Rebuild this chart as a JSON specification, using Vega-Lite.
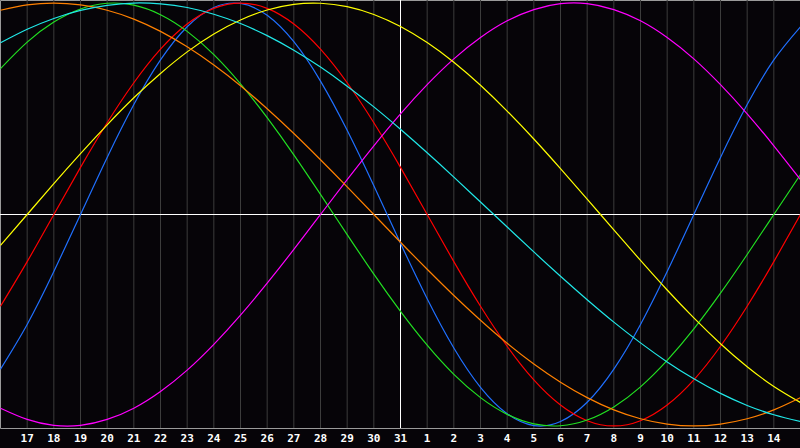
{
 "$schema": "https://vega.github.io/schema/vega-lite/v6.json",
 "width": 800,
 "height": 428,
 "autosize": {"type": "none"},
 "padding": {"left": 0, "top": 0, "right": 0, "bottom": 20},
 "background": "#060408",
 "config": {"view": {"stroke": "#9a9a9a", "strokeWidth": 1}},
 "datasets": {
  "days": [
   {"i":1,"label":"17"},{"i":2,"label":"18"},{"i":3,"label":"19"},{"i":4,"label":"20"},{"i":5,"label":"21"},
   {"i":6,"label":"22"},{"i":7,"label":"23"},{"i":8,"label":"24"},{"i":9,"label":"25"},{"i":10,"label":"26"},
   {"i":11,"label":"27"},{"i":12,"label":"28"},{"i":13,"label":"29"},{"i":14,"label":"30"},{"i":15,"label":"31"},
   {"i":16,"label":"1"},{"i":17,"label":"2"},{"i":18,"label":"3"},{"i":19,"label":"4"},{"i":20,"label":"5"},
   {"i":21,"label":"6"},{"i":22,"label":"7"},{"i":23,"label":"8"},{"i":24,"label":"9"},{"i":25,"label":"10"},
   {"i":26,"label":"11"},{"i":27,"label":"12"},{"i":28,"label":"13"},{"i":29,"label":"14"}
  ],
  "markers": [{"today": 15, "zero": 0}],
  "curves": [
   {"s":"Physical","i":0,"v":-0.731},{"s":"Physical","i":1,"v":-0.520},{"s":"Physical","i":2,"v":-0.270},{"s":"Physical","i":3,"v":0},{"s":"Physical","i":4,"v":0.270},{"s":"Physical","i":5,"v":0.520},{"s":"Physical","i":6,"v":0.731},{"s":"Physical","i":7,"v":0.888},{"s":"Physical","i":8,"v":0.979},{"s":"Physical","i":9,"v":0.998},{"s":"Physical","i":10,"v":0.942},{"s":"Physical","i":11,"v":0.817},{"s":"Physical","i":12,"v":0.631},{"s":"Physical","i":13,"v":0.398},{"s":"Physical","i":14,"v":0.136},{"s":"Physical","i":15,"v":-0.136},{"s":"Physical","i":16,"v":-0.398},{"s":"Physical","i":17,"v":-0.631},{"s":"Physical","i":18,"v":-0.817},{"s":"Physical","i":19,"v":-0.942},{"s":"Physical","i":20,"v":-0.998},{"s":"Physical","i":21,"v":-0.979},{"s":"Physical","i":22,"v":-0.888},{"s":"Physical","i":23,"v":-0.731},{"s":"Physical","i":24,"v":-0.520},{"s":"Physical","i":25,"v":-0.270},{"s":"Physical","i":26,"v":0},{"s":"Physical","i":27,"v":0.270},{"s":"Physical","i":28,"v":0.520},{"s":"Physical","i":29,"v":0.731},{"s":"Physical","i":30,"v":0.888},
   {"s":"Emotional","i":0,"v":-0.434},{"s":"Emotional","i":1,"v":-0.223},{"s":"Emotional","i":2,"v":0},{"s":"Emotional","i":3,"v":0.223},{"s":"Emotional","i":4,"v":0.434},{"s":"Emotional","i":5,"v":0.623},{"s":"Emotional","i":6,"v":0.782},{"s":"Emotional","i":7,"v":0.901},{"s":"Emotional","i":8,"v":0.975},{"s":"Emotional","i":9,"v":1},{"s":"Emotional","i":10,"v":0.975},{"s":"Emotional","i":11,"v":0.901},{"s":"Emotional","i":12,"v":0.782},{"s":"Emotional","i":13,"v":0.623},{"s":"Emotional","i":14,"v":0.434},{"s":"Emotional","i":15,"v":0.223},{"s":"Emotional","i":16,"v":0},{"s":"Emotional","i":17,"v":-0.223},{"s":"Emotional","i":18,"v":-0.434},{"s":"Emotional","i":19,"v":-0.623},{"s":"Emotional","i":20,"v":-0.782},{"s":"Emotional","i":21,"v":-0.901},{"s":"Emotional","i":22,"v":-0.975},{"s":"Emotional","i":23,"v":-1},{"s":"Emotional","i":24,"v":-0.975},{"s":"Emotional","i":25,"v":-0.901},{"s":"Emotional","i":26,"v":-0.782},{"s":"Emotional","i":27,"v":-0.623},{"s":"Emotional","i":28,"v":-0.434},{"s":"Emotional","i":29,"v":-0.223},{"s":"Emotional","i":30,"v":0},
   {"s":"Intellectual","i":0,"v":0.690},{"s":"Intellectual","i":1,"v":0.815},{"s":"Intellectual","i":2,"v":0.910},{"s":"Intellectual","i":3,"v":0.972},{"s":"Intellectual","i":4,"v":0.999},{"s":"Intellectual","i":5,"v":0.990},{"s":"Intellectual","i":6,"v":0.945},{"s":"Intellectual","i":7,"v":0.866},{"s":"Intellectual","i":8,"v":0.756},{"s":"Intellectual","i":9,"v":0.618},{"s":"Intellectual","i":10,"v":0.458},{"s":"Intellectual","i":11,"v":0.282},{"s":"Intellectual","i":12,"v":0.095},{"s":"Intellectual","i":13,"v":-0.095},{"s":"Intellectual","i":14,"v":-0.282},{"s":"Intellectual","i":15,"v":-0.458},{"s":"Intellectual","i":16,"v":-0.618},{"s":"Intellectual","i":17,"v":-0.756},{"s":"Intellectual","i":18,"v":-0.866},{"s":"Intellectual","i":19,"v":-0.945},{"s":"Intellectual","i":20,"v":-0.990},{"s":"Intellectual","i":21,"v":-0.999},{"s":"Intellectual","i":22,"v":-0.972},{"s":"Intellectual","i":23,"v":-0.910},{"s":"Intellectual","i":24,"v":-0.815},{"s":"Intellectual","i":25,"v":-0.690},{"s":"Intellectual","i":26,"v":-0.541},{"s":"Intellectual","i":27,"v":-0.372},{"s":"Intellectual","i":28,"v":-0.189},{"s":"Intellectual","i":29,"v":0},{"s":"Intellectual","i":30,"v":0.189},
   {"s":"Intuitive","i":0,"v":-0.916},{"s":"Intuitive","i":1,"v":-0.969},{"s":"Intuitive","i":2,"v":-0.997},{"s":"Intuitive","i":3,"v":-0.997},{"s":"Intuitive","i":4,"v":-0.969},{"s":"Intuitive","i":5,"v":-0.916},{"s":"Intuitive","i":6,"v":-0.837},{"s":"Intuitive","i":7,"v":-0.736},{"s":"Intuitive","i":8,"v":-0.614},{"s":"Intuitive","i":9,"v":-0.476},{"s":"Intuitive","i":10,"v":-0.325},{"s":"Intuitive","i":11,"v":-0.165},{"s":"Intuitive","i":12,"v":0},{"s":"Intuitive","i":13,"v":0.165},{"s":"Intuitive","i":14,"v":0.325},{"s":"Intuitive","i":15,"v":0.476},{"s":"Intuitive","i":16,"v":0.614},{"s":"Intuitive","i":17,"v":0.736},{"s":"Intuitive","i":18,"v":0.837},{"s":"Intuitive","i":19,"v":0.916},{"s":"Intuitive","i":20,"v":0.969},{"s":"Intuitive","i":21,"v":0.997},{"s":"Intuitive","i":22,"v":0.997},{"s":"Intuitive","i":23,"v":0.969},{"s":"Intuitive","i":24,"v":0.916},{"s":"Intuitive","i":25,"v":0.837},{"s":"Intuitive","i":26,"v":0.736},{"s":"Intuitive","i":27,"v":0.614},{"s":"Intuitive","i":28,"v":0.476},{"s":"Intuitive","i":29,"v":0.325},{"s":"Intuitive","i":30,"v":0.165},
   {"s":"Aesthetic","i":0,"v":-0.146},{"s":"Aesthetic","i":1,"v":0},{"s":"Aesthetic","i":2,"v":0.146},{"s":"Aesthetic","i":3,"v":0.288},{"s":"Aesthetic","i":4,"v":0.424},{"s":"Aesthetic","i":5,"v":0.552},{"s":"Aesthetic","i":6,"v":0.667},{"s":"Aesthetic","i":7,"v":0.769},{"s":"Aesthetic","i":8,"v":0.854},{"s":"Aesthetic","i":9,"v":0.920},{"s":"Aesthetic","i":10,"v":0.967},{"s":"Aesthetic","i":11,"v":0.994},{"s":"Aesthetic","i":12,"v":0.999},{"s":"Aesthetic","i":13,"v":0.983},{"s":"Aesthetic","i":14,"v":0.946},{"s":"Aesthetic","i":15,"v":0.889},{"s":"Aesthetic","i":16,"v":0.813},{"s":"Aesthetic","i":17,"v":0.720},{"s":"Aesthetic","i":18,"v":0.611},{"s":"Aesthetic","i":19,"v":0.489},{"s":"Aesthetic","i":20,"v":0.357},{"s":"Aesthetic","i":21,"v":0.217},{"s":"Aesthetic","i":22,"v":0.073},{"s":"Aesthetic","i":23,"v":-0.073},{"s":"Aesthetic","i":24,"v":-0.217},{"s":"Aesthetic","i":25,"v":-0.357},{"s":"Aesthetic","i":26,"v":-0.489},{"s":"Aesthetic","i":27,"v":-0.611},{"s":"Aesthetic","i":28,"v":-0.720},{"s":"Aesthetic","i":29,"v":-0.813},{"s":"Aesthetic","i":30,"v":-0.889},
   {"s":"Awareness","i":0,"v":0.966},{"s":"Awareness","i":1,"v":0.991},{"s":"Awareness","i":2,"v":1},{"s":"Awareness","i":3,"v":0.991},{"s":"Awareness","i":4,"v":0.966},{"s":"Awareness","i":5,"v":0.924},{"s":"Awareness","i":6,"v":0.866},{"s":"Awareness","i":7,"v":0.793},{"s":"Awareness","i":8,"v":0.707},{"s":"Awareness","i":9,"v":0.609},{"s":"Awareness","i":10,"v":0.5},{"s":"Awareness","i":11,"v":0.383},{"s":"Awareness","i":12,"v":0.259},{"s":"Awareness","i":13,"v":0.131},{"s":"Awareness","i":14,"v":0},{"s":"Awareness","i":15,"v":-0.131},{"s":"Awareness","i":16,"v":-0.259},{"s":"Awareness","i":17,"v":-0.383},{"s":"Awareness","i":18,"v":-0.5},{"s":"Awareness","i":19,"v":-0.609},{"s":"Awareness","i":20,"v":-0.707},{"s":"Awareness","i":21,"v":-0.793},{"s":"Awareness","i":22,"v":-0.866},{"s":"Awareness","i":23,"v":-0.924},{"s":"Awareness","i":24,"v":-0.966},{"s":"Awareness","i":25,"v":-0.991},{"s":"Awareness","i":26,"v":-1},{"s":"Awareness","i":27,"v":-0.991},{"s":"Awareness","i":28,"v":-0.966},{"s":"Awareness","i":29,"v":-0.924},{"s":"Awareness","i":30,"v":-0.866},
   {"s":"Spiritual","i":0,"v":0.812},{"s":"Spiritual","i":1,"v":0.876},{"s":"Spiritual","i":2,"v":0.927},{"s":"Spiritual","i":3,"v":0.965},{"s":"Spiritual","i":4,"v":0.989},{"s":"Spiritual","i":5,"v":1.000},{"s":"Spiritual","i":6,"v":0.996},{"s":"Spiritual","i":7,"v":0.979},{"s":"Spiritual","i":8,"v":0.947},{"s":"Spiritual","i":9,"v":0.903},{"s":"Spiritual","i":10,"v":0.846},{"s":"Spiritual","i":11,"v":0.777},{"s":"Spiritual","i":12,"v":0.697},{"s":"Spiritual","i":13,"v":0.607},{"s":"Spiritual","i":14,"v":0.509},{"s":"Spiritual","i":15,"v":0.403},{"s":"Spiritual","i":16,"v":0.292},{"s":"Spiritual","i":17,"v":0.177},{"s":"Spiritual","i":18,"v":0.059},{"s":"Spiritual","i":19,"v":-0.059},{"s":"Spiritual","i":20,"v":-0.177},{"s":"Spiritual","i":21,"v":-0.292},{"s":"Spiritual","i":22,"v":-0.403},{"s":"Spiritual","i":23,"v":-0.509},{"s":"Spiritual","i":24,"v":-0.607},{"s":"Spiritual","i":25,"v":-0.697},{"s":"Spiritual","i":26,"v":-0.777},{"s":"Spiritual","i":27,"v":-0.846},{"s":"Spiritual","i":28,"v":-0.903},{"s":"Spiritual","i":29,"v":-0.947},{"s":"Spiritual","i":30,"v":-0.979}
  ]
 },
 "layer": [
  {
   "data": {"name": "days"},
   "mark": {"type": "rule", "color": "#3c3c3c", "strokeWidth": 1},
   "encoding": {
    "x": {"field": "i", "type": "quantitative", "scale": {"domain": [-0.01875, 29.98125], "nice": false, "zero": false}, "axis": null}
   }
  },
  {
   "data": {"name": "days"},
   "mark": {"type": "text", "color": "#ffffff", "font": "DejaVu Sans Mono", "fontWeight": "bold", "fontSize": 11, "baseline": "middle", "align": "center", "dy": 11},
   "encoding": {
    "x": {"field": "i", "type": "quantitative", "scale": {"domain": [-0.01875, 29.98125], "nice": false, "zero": false}, "axis": null},
    "y": {"datum": -1.0096, "type": "quantitative", "scale": {"domain": [-1.0096, 1.0144], "nice": false, "zero": false}, "axis": null},
    "text": {"field": "label", "type": "nominal"}
   }
  },
  {
   "data": {"name": "markers"},
   "mark": {"type": "rule", "color": "#ffffff", "strokeWidth": 1},
   "encoding": {
    "y": {"field": "zero", "type": "quantitative", "scale": {"domain": [-1.0096, 1.0144], "nice": false, "zero": false}, "axis": null}
   }
  },
  {
   "data": {"name": "markers"},
   "mark": {"type": "rule", "color": "#ffffff", "strokeWidth": 1},
   "encoding": {
    "x": {"field": "today", "type": "quantitative", "scale": {"domain": [-0.01875, 29.98125], "nice": false, "zero": false}, "axis": null}
   }
  },
  {
   "data": {"name": "curves"},
   "mark": {"type": "line", "interpolate": "natural", "strokeWidth": 1.2, "clip": true},
   "encoding": {
    "x": {"field": "i", "type": "quantitative", "scale": {"domain": [-0.01875, 29.98125], "nice": false, "zero": false}, "axis": null},
    "y": {"field": "v", "type": "quantitative", "scale": {"domain": [-1.0096, 1.0144], "nice": false, "zero": false}, "axis": null},
    "color": {
     "field": "s", "type": "nominal", "legend": null,
     "scale": {
      "domain": ["Physical", "Emotional", "Intellectual", "Intuitive", "Aesthetic", "Awareness", "Spiritual"],
      "range": ["#2070ff", "#ff0000", "#22e022", "#ff00ff", "#ffff00", "#ff8000", "#20e8e8"]
     }
    }
   }
  }
 ]
}
